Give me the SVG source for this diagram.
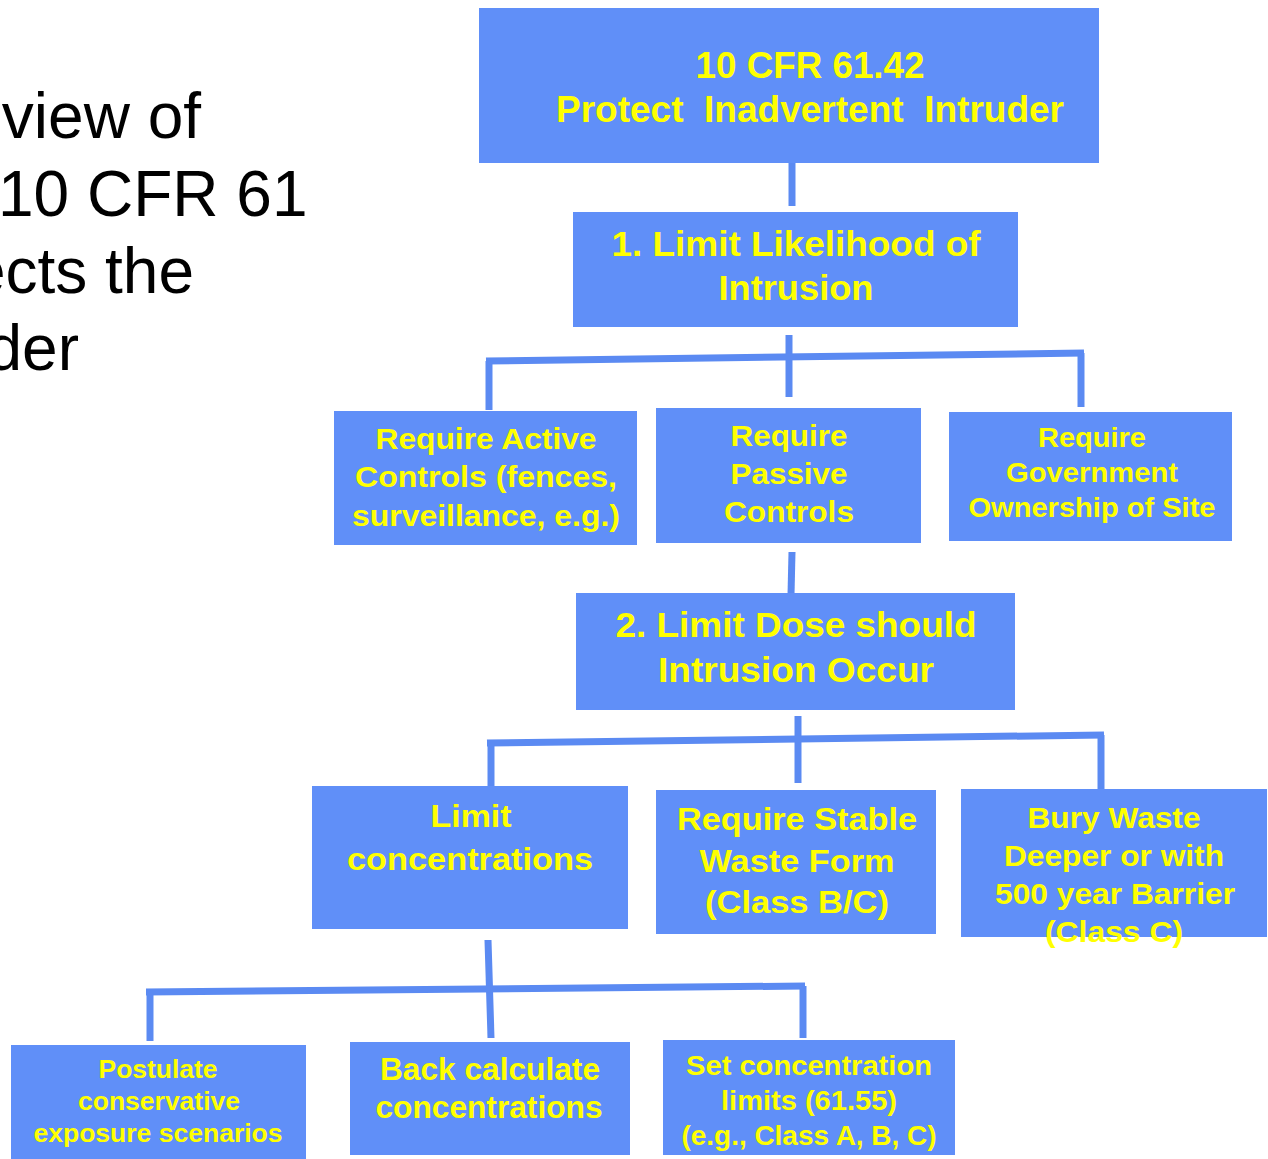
<svg xmlns="http://www.w3.org/2000/svg" width="1268" height="1159" viewBox="0 0 1268 1159">
  <style>
    .box { fill: #608ff8; }
    .lbl { fill: #ffff00; font-family: "Liberation Sans", Arial, sans-serif; font-weight: bold; text-anchor: middle; }
    .side { fill: #000000; font-family: "Liberation Sans", Arial, sans-serif; font-size: 64px; text-anchor: end; }
    .wire { stroke: #5b8af2; stroke-width: 7; fill: none; stroke-linecap: butt; }
  </style>
  <rect width="1268" height="1159" fill="#ffffff"/>

  <!-- title text running off the left edge -->
  <g id="side-title">
    <text class="side" x="201" y="138">view of</text>
    <text class="side" x="-2" y="216" style="text-anchor:start">10 CFR 61</text>
    <text class="side" x="194" y="293">ects the</text>
    <text class="side" x="79" y="370">der</text>
  </g>

  <!-- connectors -->
  <g id="connectors">
    <line class="wire" x1="792" y1="163" x2="792" y2="206"/>
    <line class="wire" x1="789" y1="335" x2="789" y2="397"/>
    <line class="wire" x1="486" y1="361" x2="1084" y2="353"/>
    <line class="wire" x1="489" y1="361" x2="489" y2="410"/>
    <line class="wire" x1="1081" y1="353" x2="1081" y2="407"/>

    <line class="wire" x1="792" y1="552" x2="791" y2="595"/>
    <line class="wire" x1="798" y1="716" x2="798" y2="783"/>
    <line class="wire" x1="487" y1="743" x2="1104" y2="735"/>
    <line class="wire" x1="491" y1="743" x2="491" y2="787"/>
    <line class="wire" x1="1101" y1="735" x2="1101" y2="790"/>

    <line class="wire" x1="488" y1="940" x2="491" y2="1038"/>
    <line class="wire" x1="146" y1="992" x2="805" y2="986"/>
    <line class="wire" x1="150" y1="992" x2="150" y2="1041"/>
    <line class="wire" x1="803" y1="986" x2="803" y2="1038"/>
  </g>

  <g id="n-root">
    <rect class="box" x="479" y="8" width="620" height="155"/>
    <text class="lbl" font-size="36" x="810" y="78" textLength="229" lengthAdjust="spacingAndGlyphs">10 CFR 61.42</text>
    <text class="lbl" font-size="36" x="810" y="122" textLength="508" lengthAdjust="spacingAndGlyphs" xml:space="preserve">Protect  Inadvertent  Intruder</text>
  </g>

  <g id="n-likelihood">
    <rect class="box" x="573" y="212" width="445" height="115"/>
    <text class="lbl" font-size="35" x="796" y="256" textLength="369" lengthAdjust="spacingAndGlyphs">1. Limit Likelihood of</text>
    <text class="lbl" font-size="35" x="796" y="300" textLength="155" lengthAdjust="spacingAndGlyphs">Intrusion</text>
  </g>

  <g id="n-active">
    <rect class="box" x="334" y="411" width="303" height="134"/>
    <text class="lbl" font-size="29" x="486" y="449" textLength="221" lengthAdjust="spacingAndGlyphs">Require Active</text>
    <text class="lbl" font-size="29" x="486" y="487" textLength="262" lengthAdjust="spacingAndGlyphs">Controls (fences,</text>
    <text class="lbl" font-size="29" x="486" y="526" textLength="268" lengthAdjust="spacingAndGlyphs">surveillance, e.g.)</text>
  </g>

  <g id="n-passive">
    <rect class="box" x="656" y="408" width="265" height="135"/>
    <text class="lbl" font-size="29" x="789" y="446" textLength="117" lengthAdjust="spacingAndGlyphs">Require</text>
    <text class="lbl" font-size="29" x="789" y="484" textLength="117" lengthAdjust="spacingAndGlyphs">Passive</text>
    <text class="lbl" font-size="29" x="789" y="522" textLength="130" lengthAdjust="spacingAndGlyphs">Controls</text>
  </g>

  <g id="n-government">
    <rect class="box" x="949" y="412" width="283" height="129"/>
    <text class="lbl" font-size="27" x="1092" y="447" textLength="108" lengthAdjust="spacingAndGlyphs">Require</text>
    <text class="lbl" font-size="27" x="1092" y="482" textLength="172" lengthAdjust="spacingAndGlyphs">Government</text>
    <text class="lbl" font-size="27" x="1092" y="517" textLength="247" lengthAdjust="spacingAndGlyphs">Ownership of Site</text>
  </g>

  <g id="n-dose">
    <rect class="box" x="576" y="593" width="439" height="117"/>
    <text class="lbl" font-size="35" x="796" y="637" textLength="361" lengthAdjust="spacingAndGlyphs">2. Limit Dose should</text>
    <text class="lbl" font-size="35" x="796" y="682" textLength="276" lengthAdjust="spacingAndGlyphs">Intrusion Occur</text>
  </g>

  <g id="n-limit-conc">
    <rect class="box" x="312" y="786" width="316" height="143"/>
    <text class="lbl" font-size="32" x="471" y="827" textLength="81" lengthAdjust="spacingAndGlyphs">Limit</text>
    <text class="lbl" font-size="32" x="470" y="870" textLength="246" lengthAdjust="spacingAndGlyphs">concentrations</text>
  </g>

  <g id="n-stable">
    <rect class="box" x="656" y="790" width="280" height="144"/>
    <text class="lbl" font-size="32" x="797" y="830" textLength="240" lengthAdjust="spacingAndGlyphs">Require Stable</text>
    <text class="lbl" font-size="32" x="797" y="872" textLength="195" lengthAdjust="spacingAndGlyphs">Waste Form</text>
    <text class="lbl" font-size="32" x="797" y="913" textLength="184" lengthAdjust="spacingAndGlyphs">(Class B/C)</text>
  </g>

  <g id="n-bury">
    <rect class="box" x="961" y="789" width="306" height="148"/>
    <text class="lbl" font-size="30" x="1114" y="828" textLength="173" lengthAdjust="spacingAndGlyphs">Bury Waste</text>
    <text class="lbl" font-size="30" x="1114" y="866" textLength="220" lengthAdjust="spacingAndGlyphs">Deeper or with</text>
    <text class="lbl" font-size="30" x="1115" y="904" textLength="240" lengthAdjust="spacingAndGlyphs">500 year Barrier</text>
    <text class="lbl" font-size="30" x="1114" y="942" textLength="138" lengthAdjust="spacingAndGlyphs">(Class C)</text>
  </g>

  <g id="n-postulate">
    <rect class="box" x="11" y="1045" width="295" height="114"/>
    <text class="lbl" font-size="25" x="158" y="1078" textLength="119" lengthAdjust="spacingAndGlyphs">Postulate</text>
    <text class="lbl" font-size="25" x="159" y="1110" textLength="162" lengthAdjust="spacingAndGlyphs">conservative</text>
    <text class="lbl" font-size="25" x="158" y="1142" textLength="249" lengthAdjust="spacingAndGlyphs">exposure scenarios</text>
  </g>

  <g id="n-back-calc">
    <rect class="box" x="350" y="1042" width="280" height="113"/>
    <text class="lbl" font-size="31" x="490" y="1080" textLength="220" lengthAdjust="spacingAndGlyphs">Back calculate</text>
    <text class="lbl" font-size="31" x="489" y="1118" textLength="227" lengthAdjust="spacingAndGlyphs">concentrations</text>
  </g>

  <g id="n-set-conc">
    <rect class="box" x="663" y="1040" width="292" height="115"/>
    <text class="lbl" font-size="28" x="809" y="1075" textLength="246" lengthAdjust="spacingAndGlyphs">Set concentration</text>
    <text class="lbl" font-size="28" x="809" y="1110" textLength="176" lengthAdjust="spacingAndGlyphs">limits (61.55)</text>
    <text class="lbl" font-size="28" x="809" y="1145" textLength="255" lengthAdjust="spacingAndGlyphs">(e.g., Class A, B, C)</text>
  </g>
</svg>
